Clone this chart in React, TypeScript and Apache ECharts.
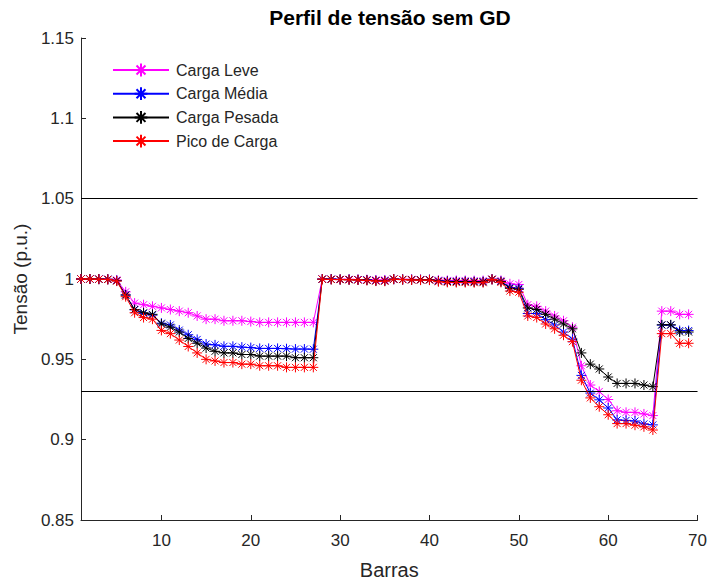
import React, { useEffect, useRef } from "react";
import * as echarts from "echarts";

const buses: number[] = Array.from({ length: 69 }, (_, i) => i + 1);

const cargaLeve: number[] = [
  1.0, 1.0, 1.0, 0.9999, 0.9994, 0.992, 0.985, 0.984, 0.983, 0.982,
  0.981, 0.98, 0.979, 0.977, 0.975, 0.975, 0.974, 0.974, 0.974, 0.9735,
  0.973, 0.973, 0.973, 0.973, 0.973, 0.973, 0.973,
  1.0, 0.9999, 0.9998, 0.9998, 0.9997, 0.9996, 0.9994, 0.9994,
  0.9999, 0.9998, 0.9998, 0.9997, 0.9997, 0.9993, 0.9991, 0.9991, 0.9991, 0.999, 0.999,
  0.9999, 0.9991, 0.997, 0.9966,
  0.984, 0.983,
  0.98, 0.977, 0.974, 0.97, 0.946, 0.934, 0.93, 0.925, 0.918, 0.917, 0.917, 0.916, 0.915,
  0.98, 0.98, 0.978, 0.978,
];

const cargaMedia: number[] = [
  1.0, 1.0, 0.9999, 0.9998, 0.999, 0.9901, 0.9808, 0.9786, 0.9775, 0.9725,
  0.9714, 0.9682, 0.9653, 0.9624, 0.9595, 0.959, 0.9581, 0.9581, 0.9576, 0.9573,
  0.9568, 0.9568, 0.9568, 0.9566, 0.9564, 0.9564, 0.9563,
  0.9999, 0.9999, 0.9997, 0.9997, 0.9996, 0.9994, 0.999, 0.999,
  0.9999, 0.9997, 0.9996, 0.9995, 0.9995, 0.9988, 0.9986, 0.9985, 0.9985, 0.9984, 0.9984,
  0.9998, 0.9985, 0.9947, 0.9942,
  0.9785, 0.9785,
  0.9747, 0.9714, 0.967, 0.9626, 0.94, 0.929, 0.9248, 0.9197, 0.9123, 0.912, 0.9116, 0.9098, 0.9092,
  0.9713, 0.9713, 0.9679, 0.9679,
];

const cargaPesada: number[] = [
  1.0, 1.0, 0.9999, 0.9998, 0.9989, 0.99, 0.981, 0.979, 0.978, 0.972,
  0.97, 0.967, 0.963, 0.96, 0.957, 0.955, 0.954, 0.954, 0.953, 0.953,
  0.952, 0.952, 0.952, 0.952, 0.951, 0.951, 0.951,
  0.9999, 0.9998, 0.9997, 0.9996, 0.9995, 0.9993, 0.9989, 0.9988,
  0.9999, 0.9997, 0.9995, 0.9995, 0.9995, 0.9987, 0.9984, 0.9983, 0.9983, 0.9982, 0.9982,
  0.9998, 0.9984, 0.9942, 0.9936,
  0.982, 0.981,
  0.978, 0.975, 0.972, 0.969, 0.954, 0.947, 0.944, 0.939, 0.935, 0.935, 0.935, 0.934, 0.933,
  0.9715, 0.9715, 0.967, 0.967,
];

const picoCarga: number[] = [
  1.0, 1.0, 0.9999, 0.9997, 0.9987, 0.989, 0.979, 0.976, 0.975, 0.968,
  0.966, 0.962, 0.958, 0.954, 0.95, 0.949, 0.948, 0.948, 0.947, 0.947,
  0.946, 0.946, 0.946, 0.945, 0.945, 0.945, 0.945,
  0.9999, 0.9997, 0.9996, 0.9995, 0.9994, 0.9991, 0.9987, 0.9986,
  0.9999, 0.9996, 0.9994, 0.9993, 0.9993, 0.9983, 0.9979, 0.9978, 0.9978, 0.9977, 0.9977,
  0.9997, 0.9979, 0.9925, 0.9918,
  0.977, 0.976,
  0.972, 0.969, 0.965, 0.961, 0.937, 0.926, 0.9205, 0.9155, 0.91, 0.91, 0.909, 0.908, 0.906,
  0.966, 0.966, 0.96, 0.96,
];

const seriesNames: string[] = ["Carga Leve", "Carga Média", "Carga Pesada", "Pico de Carga"];
const seriesColors: string[] = ["#FF00FF", "#0000FF", "#000000", "#FF0000"];
const limitLines: number[] = [1.05, 0.93];
const xTicks: number[] = [10, 20, 30, 40, 50, 60, 70];

const ASTERISK = "path://M5 0 L5 10 M0 5 L10 5 M1.5 1.5 L8.5 8.5 M8.5 1.5 L1.5 8.5";
const FONT = "'Liberation Sans', Arial, Helvetica, sans-serif";

export default function App() {
  const ref = useRef<HTMLDivElement>(null);

  useEffect(() => {
    if (!ref.current) return;
    const chart = echarts.init(ref.current, undefined, { renderer: "svg" });
    const allData = [cargaLeve, cargaMedia, cargaPesada, picoCarga];

    const series: any[] = allData.map((vals, i) => ({
      name: seriesNames[i],
      type: "line",
      data: buses.map((b, j) => [b, vals[j]]),
      symbol: ASTERISK,
      symbolSize: 10,
      showSymbol: true,
      lineStyle: { color: seriesColors[i], width: 1 },
      itemStyle: { color: seriesColors[i], borderColor: seriesColors[i], borderWidth: 1 },
      emphasis: { disabled: true },
      z: 3 + i,
    }));

    series[0].markLine = {
      silent: true,
      symbol: ["none", "none"],
      label: { show: false },
      lineStyle: { color: "#000000", width: 1, type: "solid" },
      emphasis: { disabled: true },
      data: limitLines.map((v) => ({ yAxis: v })),
    };

    chart.setOption({
      animation: false,
      backgroundColor: "#ffffff",
      title: {
        text: "Perfil de tensão sem GD",
        left: 390,
        top: 7,
        padding: 0,
        textAlign: "center",
        textStyle: { fontFamily: FONT, fontSize: 21, fontWeight: "bold", color: "#000000" },
      },
      legend: {
        orient: "vertical",
        left: 107,
        top: 57,
        itemWidth: 56,
        itemHeight: 16,
        itemGap: 7.7,
        data: seriesNames,
        textStyle: { fontFamily: FONT, fontSize: 16, lineHeight: 16, color: "#262626", padding: [0, 0, 0, 2] },
        selectedMode: false,
      },
      grid: { left: 81, right: 12, top: 38, bottom: 62, containLabel: false },
      xAxis: {
        type: "value",
        min: 1,
        max: 70,
        name: "Barras",
        nameLocation: "middle",
        nameGap: 40,
        nameTextStyle: { fontFamily: FONT, fontSize: 20, color: "#262626" },
        axisLine: { show: true, lineStyle: { color: "#262626", width: 1 } },
        axisTick: { show: true, inside: true, length: 5, customValues: xTicks, lineStyle: { color: "#262626" } },
        axisLabel: { customValues: xTicks, fontFamily: FONT, fontSize: 17, color: "#262626", margin: 12 },
        splitLine: { show: false },
      },
      yAxis: {
        type: "value",
        min: 0.85,
        max: 1.15,
        interval: 0.05,
        name: "Tensão (p.u.)",
        nameLocation: "middle",
        nameRotate: 90,
        nameGap: 51,
        nameTextStyle: { fontFamily: FONT, fontSize: 19, color: "#262626" },
        axisLine: { show: true, lineStyle: { color: "#262626", width: 1 } },
        axisTick: { show: true, inside: true, length: 5, lineStyle: { color: "#262626" } },
        axisLabel: {
          fontFamily: FONT,
          fontSize: 17,
          color: "#262626",
          margin: 7,
          formatter: (v: number) => String(Math.round(v * 100) / 100),
        },
        splitLine: { show: false },
      },
      series,
    });

    return () => chart.dispose();
  }, []);

  return (
    <div
      ref={ref}
      style={{ position: "fixed", left: 0, top: 0, width: 710, height: 585, background: "#fff" }}
    />
  );
}
